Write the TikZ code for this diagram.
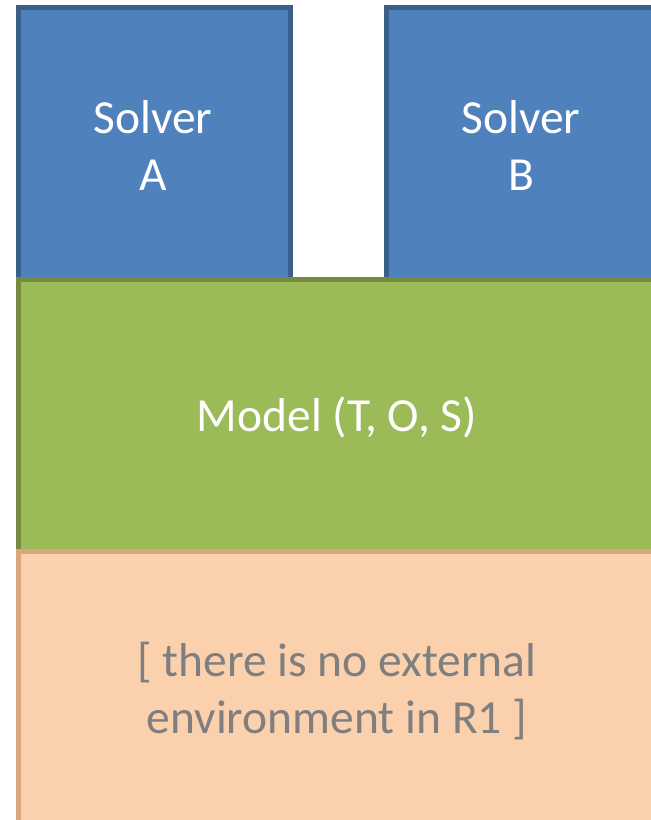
\documentclass[tikz,border=0pt]{standalone}
\usepackage{fontspec}
\setmainfont{Carlito}
\definecolor{solverfill}{HTML}{4F81BD}
\definecolor{solverline}{HTML}{3A5F8B}
\definecolor{modelfill}{HTML}{9BBB59}
\definecolor{modelline}{HTML}{748B41}
\definecolor{envfill}{HTML}{FBD0AD}
\definecolor{envline}{HTML}{DAA67D}
\definecolor{envtext}{HTML}{7F7F7F}
\tikzset{
  labelfont/.style={font=\fontsize{47.5}{57}\selectfont},
  layer/.style={draw, line width=5pt, inner sep=0pt, outer sep=0pt},
  solverbox/.style={layer, fill=solverfill, draw=solverline},
  modelbox/.style={layer, fill=modelfill, draw=modelline},
  envbox/.style={layer, fill=envfill, draw=envline},
}
\begin{document}
\begin{tikzpicture}[x=1pt,y=-1pt]
  \useasboundingbox (0,0) rectangle (651,820);
  \clip (0,0) rectangle (651,820);
  % solvers on top, drawn first so the model's edge overlaps them
  \node[solverbox, minimum width=272pt, minimum height=272pt, anchor=north west] (solverA) at (18,7) {};
  \node[text=white, align=center, labelfont] (labelA) at (153,146) {Solver\\A};
  \node[solverbox, minimum width=272pt, minimum height=272pt, anchor=north west] (solverB) at (386,7) {};
  \node[text=white, align=center, labelfont] (labelB) at (521,146) {Solver\\B};
  % model layer
  \node[modelbox, minimum width=640pt, minimum height=272pt, anchor=north west] (model) at (18,279) {};
  \node[text=white, labelfont] (modellabel) at (337,417) {Model (T, O, S)};
  % environment layer at the bottom
  \node[envbox, minimum width=640pt, minimum height=290pt, anchor=north west] (env) at (18,551) {};
  \node[text=envtext, align=center, labelfont] (envlabel) at (337,691)
    {[ there is no external\\environment in R1 ]};
\end{tikzpicture}
\end{document}
